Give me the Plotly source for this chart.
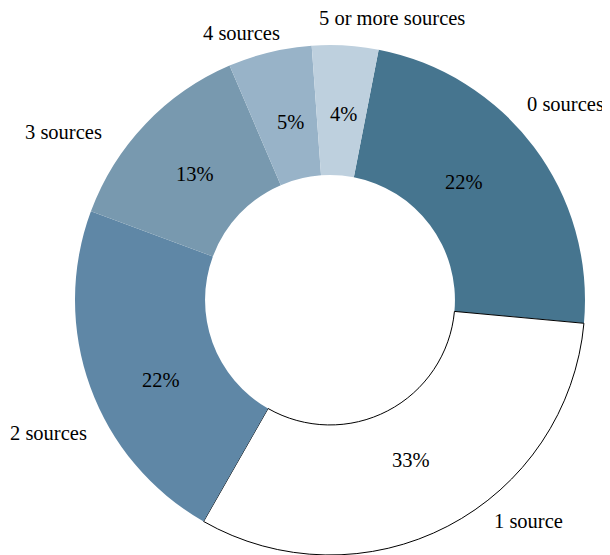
import plotly.graph_objects as go

categories = ["0 sources", "1 source", "2 sources", "3 sources", "4 sources", "5 or more sources"]
shares = [23.4, 31.8, 22.4, 12.9, 5.3, 4.2]
pct_labels = ["22%", "33%", "22%", "13%", "5%", "4%"]
colors = ["#46758f", "#ffffff", "#5f87a6", "#7899af", "#98b3c8", "#bed0de"]

# the page body has an 8px margin; the figure is sized to fill the rest of the window
OFF = 8
WIN_W, WIN_H = 610, 555
W, H = WIN_W - OFF, WIN_H - OFF
FONT = "Liberation Serif, Times New Roman, serif"
FS = 20.5


def px_to_paper(px, py):
    return (px - OFF) / W, 1 - (py - OFF) / H


fig = go.Figure()
fig.add_trace(go.Pie(
    labels=categories,
    values=shares,
    textinfo="none",
    sort=False,
    direction="clockwise",
    rotation=11,
    hole=0.49,
    marker=dict(colors=colors,
                line=dict(color=["rgba(0,0,0,0)", "#000000", "rgba(0,0,0,0)",
                                 "rgba(0,0,0,0)", "rgba(0,0,0,0)", "rgba(0,0,0,0)"],
                          width=[0, 1, 0, 0, 0, 0])),
    domain=dict(x=[(75 - OFF) / W, (585 - OFF) / W], y=[1 - (555 - OFF) / H, 1 - (45 - OFF) / H]),
    showlegend=False,
    hoverinfo="label+percent",
))

# text layout (window pixel positions)
label_pos = {
    "0 sources": (565, 104),
    "1 source": (528, 521),
    "2 sources": (48, 433),
    "3 sources": (63, 132),
    "4 sources": (241, 33),
    "5 or more sources": (392, 18),
}
pct_pos = {
    "0 sources": (464, 182),
    "1 source": (411, 460),
    "2 sources": (161, 380),
    "3 sources": (195, 174),
    "4 sources": (290, 122),
    "5 or more sources": (343, 114),
}
for name, pct in zip(categories, pct_labels):
    for txt, pos in ((name, label_pos[name]), (pct, pct_pos[name])):
        x, y = px_to_paper(*pos)
        fig.add_annotation(x=x, y=y, xref="paper", yref="paper",
                           text=txt, showarrow=False, xanchor="center", yanchor="middle",
                           font=dict(family=FONT, size=FS, color="#000000"))

fig.update_layout(
    width=W, height=H,
    margin=dict(l=0, r=0, t=0, b=0),
    paper_bgcolor="#ffffff",
    plot_bgcolor="#ffffff",
)
fig.write_html("out.html")
